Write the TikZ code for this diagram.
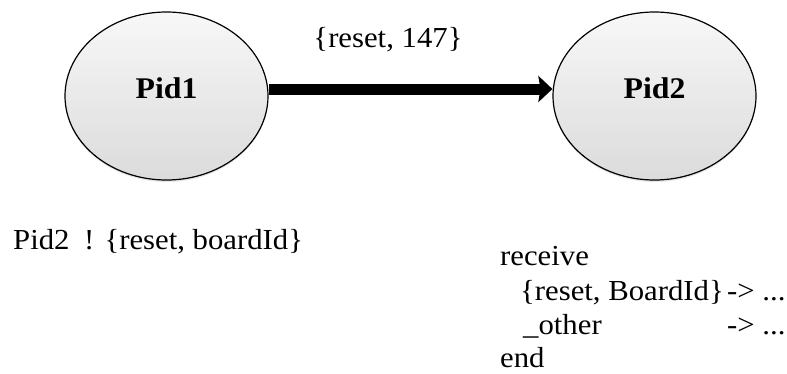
\documentclass[tikz,border=0pt]{standalone}
\usepackage{fontspec}
\setmainfont{Liberation Serif}[FakeStretch=1.06]
\usepackage{tikz}
\usetikzlibrary{arrows.meta,shapes.geometric,shadows}

\begin{document}
\begin{tikzpicture}[x=1pt,y=1pt,font=\fontsize{29}{34}\selectfont]
    \tikzstyle{proc}=[draw=black, line width=1.2pt, ellipse, minimum width=203pt, minimum height=168pt, inner sep=0pt, top color=gray!6, bottom color=gray!28, text depth=16pt, font=\fontsize{30}{34}\selectfont\bfseries, drop shadow={opacity=0.2, shadow xshift=0pt, shadow yshift=-2pt}]
    \tikzstyle{msg}=[line width=11pt, -{Stealth[length=14pt,width=26pt,inset=2pt]}]
    \tikzstyle{code}=[anchor=base west, inner sep=0pt]

    \useasboundingbox (0,0) rectangle (787,-373);

    \node[proc] (p1) at (166.5,-96) {Pid1};
    \node[proc] (p2) at (654.5,-96) {Pid2};
    \coordinate (a1) at ([yshift=7pt]p1.east);
    \coordinate (a2) at ([yshift=7pt]p2.west);
    \path (a1) edge[msg] (a2);
    \node[anchor=base, inner sep=0pt] (m) at (388,-47) {\{reset, 147\}};

    \node[code] (send) at (13,-249) {Pid2\hspace{0.5em}! \{reset, boardId\}};
    \node[code] (r0) at (500,-265) {receive};
    \node[code] (r1) at (520,-300) {\{reset, BoardId\}};
    \node[code] (r1a) at (727,-300) {-> ...};
    \node[code] (r2) at (523,-334) {\_other};
    \node[code] (r2a) at (727,-334) {-> ...};
    \node[code] (r3) at (500,-367) {end};
\end{tikzpicture}
\end{document}
